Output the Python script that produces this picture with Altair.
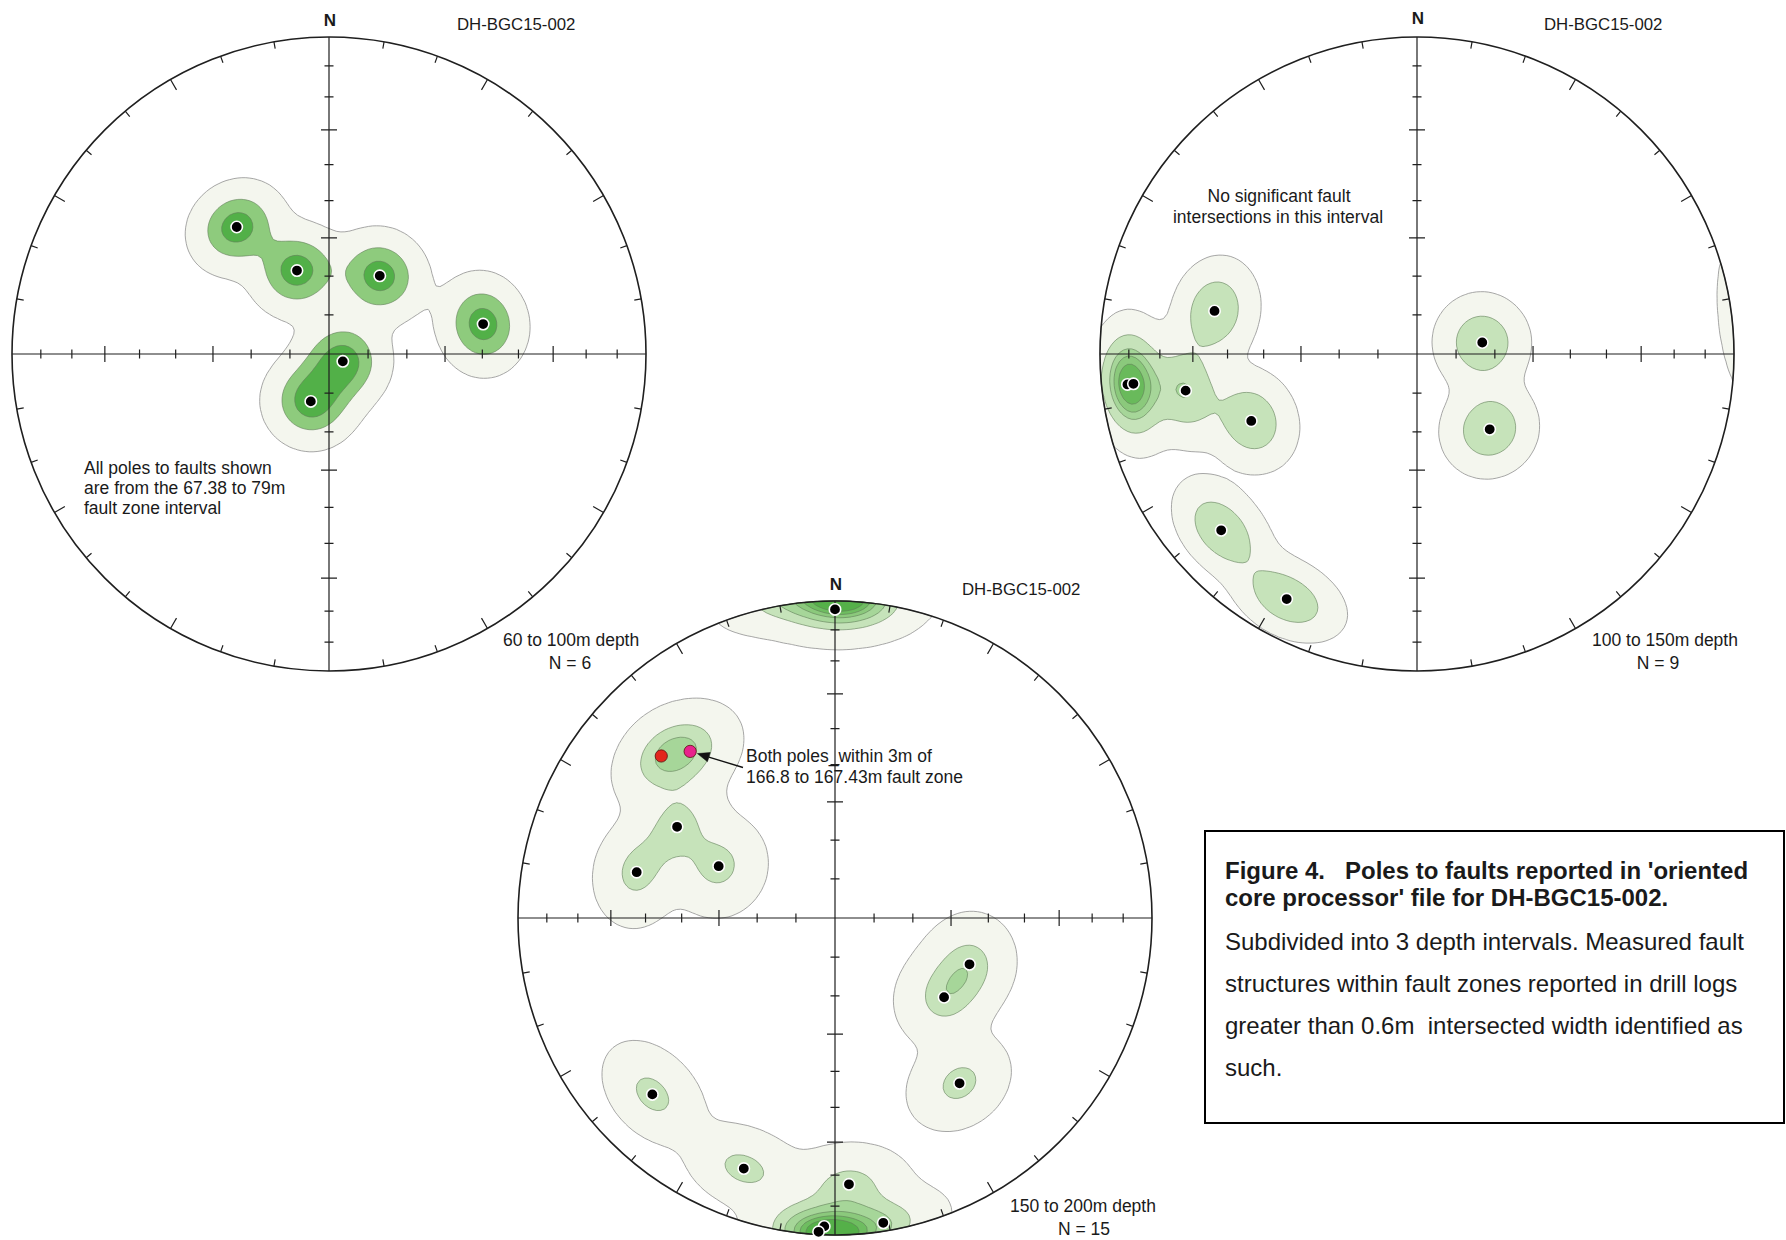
import numpy as np
import pandas as pd
import altair as alt

# ---------------------------------------------------------------------------
# Poles to faults, DH-BGC15-002 (trend / plunge in degrees, lower hemisphere)
# ---------------------------------------------------------------------------
net1_trend = [324, 339, 33, 79, 118, 201]
net1_plunge = [49, 67, 66, 49, 86, 77]

net2_trend = [282, 264, 264, 261, 248, 228, 208, 80, 136]
net2_plunge = [35, 9, 11, 27, 43, 18, 13.5, 73, 63]

net3_trend = [0, 313, 319, 300, 283, 294, 109, 126, 143, 226, 200, 177, 171, 182, 183]
net3_plunge = [3, 26, 31, 42, 36, 57, 53, 55, 35, 21, 17, 17, 3, 3, 1]
net3_group = ["other", "fault zone a", "fault zone b"] + ["other"] * 12

hole_id = "DH-BGC15-002"
depth_labels = ["60 to 100m depth", "100 to 150m depth", "150 to 200m depth"]
count_labels = ["N = 6", "N = 9", "N = 15"]

# density contour levels (summed kernel weight) and their fills, per net
net_levels = [
    [0.095, 0.48, 0.82],
    [0.10, 0.54, 1.015, 1.30, 1.60],
    [0.10, 0.80, 1.32, 1.78, 2.08, 2.35],
]
net_fills = [
    ["#f4f6ee", "#8ecb7d", "#52b048"],
    ["#f4f6ee", "#c6e3ba", "#a6d699", "#8bc97c", "#69ba5b"],
    ["#f4f6ee", "#c6e3ba", "#a6d699", "#8bc97c", "#6ebd60", "#55b049"],
]
KERNEL_SIGMA = 6.0  # degrees

# page layout of the three nets: centre (px) and primitive radius (px)
NET_CENTRES = [(329, 354), (1417, 354), (835, 918)]
RADIUS = 317
INK = "#1f1f1f"
FONT = "Liberation Sans"

SQ2 = np.sqrt(2.0)


def schmidt(trend, plunge):
    """Equal-area (Schmidt) lower-hemisphere projection -> unit-circle east/north."""
    t = np.radians(np.asarray(trend, float))
    p = np.radians(np.asarray(plunge, float))
    r = SQ2 * np.sin((np.pi / 2 - p) / 2)
    return r * np.sin(t), r * np.cos(t)


def density_grid(trend, plunge, n=177, ext=1.1, rim=1.05):
    """Axial Gaussian density on the sphere, sampled on the projection plane."""
    u = np.linspace(-ext, ext, n)
    U, V = np.meshgrid(u, u)
    rho = np.hypot(U, V)
    rc = np.minimum(rho, 1.0)
    phi = 2 * np.arcsin(rc / SQ2)
    az = np.arctan2(U, V)
    gx, gy, gz = np.sin(phi) * np.sin(az), np.sin(phi) * np.cos(az), np.cos(phi)
    t = np.radians(np.asarray(trend, float))
    p = np.radians(np.asarray(plunge, float))
    S = np.zeros_like(U)
    for ti, pi in zip(t, p):
        d = np.abs(gx * np.cos(pi) * np.sin(ti) + gy * np.cos(pi) * np.cos(ti) + gz * np.sin(pi))
        th = np.degrees(np.arccos(np.clip(d, -1, 1)))
        S += np.exp(-th ** 2 / (2 * KERNEL_SIGMA ** 2))
    S[rho > rim] = 0.0
    return u, S


def iso_rings(u, S, level):
    """Marching squares; rings oriented with the high side on the left."""
    B = S >= level
    code = B[:-1, :-1] * 1 + B[:-1, 1:] * 2 + B[1:, 1:] * 4 + B[1:, :-1] * 8
    I, J = np.nonzero((code != 0) & (code != 15))
    Sl, Bl, ul = S.tolist(), B.tolist(), u.tolist()

    def point(key):
        kind, i, j = key
        if kind == 0:
            s0, s1 = Sl[i][j], Sl[i][j + 1]
            t = (level - s0) / (s1 - s0)
            return (ul[j] + t * (ul[j + 1] - ul[j]), ul[i])
        s0, s1 = Sl[i][j], Sl[i + 1][j]
        t = (level - s0) / (s1 - s0)
        return (ul[j], ul[i] + t * (ul[i + 1] - ul[i]))

    nxt = {}
    for i, j in zip(I.tolist(), J.tolist()):
        ba, bb, bc, bd = Bl[i][j], Bl[i][j + 1], Bl[i + 1][j + 1], Bl[i + 1][j]
        E = {"b": (0, i, j), "r": (1, i, j + 1), "t": (0, i + 1, j), "l": (1, i, j)}
        crossed = []
        if ba != bb:
            crossed.append("b")
        if bb != bc:
            crossed.append("r")
        if bc != bd:
            crossed.append("t")
        if bd != ba:
            crossed.append("l")
        if len(crossed) == 2:
            pairs = [tuple(crossed)]
        else:
            centre = (Sl[i][j] + Sl[i][j + 1] + Sl[i + 1][j + 1] + Sl[i + 1][j]) / 4 >= level
            pairs = [("b", "r"), ("t", "l")] if centre == ba else [("b", "l"), ("r", "t")]
        for e1, e2 in pairs:
            s = {e1, e2}
            if s == {"b", "r"}:
                ci, cj, cb = i, j + 1, bb
            elif s == {"r", "t"}:
                ci, cj, cb = i + 1, j + 1, bc
            elif s == {"t", "l"}:
                ci, cj, cb = i + 1, j, bd
            else:
                ci, cj, cb = i, j, ba
            k1, k2 = E[e1], E[e2]
            p, q = point(k1), point(k2)
            cross = (q[0] - p[0]) * (ul[ci] - p[1]) - (q[1] - p[1]) * (ul[cj] - p[0])
            if (cross > 0) != cb:
                k1, k2 = k2, k1
            nxt[k1] = k2

    rings = []
    while nxt:
        start, k = nxt.popitem()
        ring = [start]
        while k != start and k in nxt:
            ring.append(k)
            k = nxt.pop(k)
        if len(ring) > 2:
            rings.append([point(kk) for kk in ring])
    return rings


def to_page(x, y, centre):
    cx, cy = centre
    return cx + RADIUS * x, cy - RADIUS * y


def feature(gtype, coords, **props):
    return {"type": "Feature", "geometry": {"type": gtype, "coordinates": coords}, "properties": props}


nets = [
    (net1_trend, net1_plunge, ["other"] * len(net1_trend)),
    (net2_trend, net2_plunge, ["other"] * len(net2_trend)),
    (net3_trend, net3_plunge, net3_group),
]

# ---- filled density contours ----
level_features = {}
for k, ((tr, pl, _), levels, fills, centre) in enumerate(zip(nets, net_levels, net_fills, NET_CENTRES)):
    u, S = density_grid(tr, pl)
    for li, (lev, fill) in enumerate(zip(levels, fills)):
        polys = []
        for ring in iso_rings(u, S, lev):
            pts = []
            for x, y in ring:
                r = np.hypot(x, y)
                if r > 1:
                    x, y = x / r, y / r
                X, Y = to_page(x, y, centre)
                pts.append([round(X, 1), round(Y, 1)])
            pts.append(pts[0])
            polys.append([pts])
        if polys:
            level_features.setdefault(li, []).append(
                feature("MultiPolygon", polys, fill=fill,
                        stroke="#909090" if li == 0 else "#5f7d57",
                        sw=0.8 if li == 0 else 0.6))

proj = dict(type="identity", scale=1, translate=[0, 0])

layers = []
for li in sorted(level_features):
    layers.append(
        alt.Chart(alt.Data(values=level_features[li]))
        .mark_geoshape(strokeJoin="round")
        .encode(fill=alt.Fill("properties.fill:N", scale=None),
                stroke=alt.Stroke("properties.stroke:N", scale=None),
                strokeWidth=alt.StrokeWidth("properties.sw:Q", scale=None))
        .project(**proj)
    )

# ---- axes, diameter ticks (10 degree plunge steps) and perimeter ticks ----
line_feats = []
for centre in NET_CENTRES:
    cx, cy = centre
    segs = [[[cx - RADIUS, cy], [cx + RADIUS, cy]], [[cx, cy - RADIUS], [cx, cy + RADIUS]]]
    for pl in range(10, 90, 10):
        d = RADIUS * SQ2 * np.sin(np.radians(90 - pl) / 2)
        h = 8.0 if pl in (30, 60) else 4.5
        for s in (-1, 1):
            segs.append([[cx + s * d, cy - h], [cx + s * d, cy + h]])
            segs.append([[cx - h, cy + s * d], [cx + h, cy + s * d]])
    for az in range(10, 360, 10):
        if az % 90 == 0:
            continue
        a = np.radians(az)
        ln = 12.0 if az % 30 == 0 else 7.0
        sx, sy = np.sin(a), -np.cos(a)
        segs.append([[cx + RADIUS * sx, cy + RADIUS * sy],
                     [cx + (RADIUS - ln) * sx, cy + (RADIUS - ln) * sy]])
    segs = [[[round(float(p[0]), 2), round(float(p[1]), 2)] for p in sgm] for sgm in segs]
    line_feats.append(feature("MultiLineString", segs))

layers.append(
    alt.Chart(alt.Data(values=line_feats))
    .mark_geoshape(filled=False, stroke=INK, strokeWidth=1.2)
    .project(**proj)
)

# primitive circles
frame = pd.DataFrame({"x": [c[0] for c in NET_CENTRES], "y": [c[1] for c in NET_CENTRES]})
layers.append(
    alt.Chart(frame)
    .mark_point(shape="circle", filled=False, size=(2 * RADIUS) ** 2, stroke=INK, strokeWidth=1.6, opacity=1)
    .encode(longitude="x:Q", latitude="y:Q")
    .project(**proj)
)

# ---- poles ----
rows = []
for k, (tr, pl, grp) in enumerate(nets):
    x, y = schmidt(tr, pl)
    X, Y = to_page(x, y, NET_CENTRES[k])
    for xi, yi, g in zip(X, Y, grp):
        rows.append({"x": float(xi), "y": float(yi), "group": g})
poles = pd.DataFrame(rows)

layers.append(
    alt.Chart(poles[poles.group == "other"])
    .mark_circle(size=130, color="#000000", opacity=1, stroke="white", strokeWidth=1.6)
    .encode(longitude="x:Q", latitude="y:Q")
    .project(**proj)
)
layers.append(
    alt.Chart(poles[poles.group != "other"])
    .mark_circle(size=150, opacity=1, stroke="#5a1010", strokeWidth=0.8)
    .encode(longitude="x:Q", latitude="y:Q",
            color=alt.Color("group:N", scale=alt.Scale(domain=["fault zone a", "fault zone b"],
                                                       range=["#e2261c", "#e8238c"]), legend=None))
    .project(**proj)
)

# ---- arrow to the fault-zone pair ----
fz = poles[poles.group == "fault zone b"].iloc[0]
tail = np.array([743.0, 767.5])
tip = np.array([fz.x, fz.y]) + 0.0
dvec = tail - tip
dvec /= np.hypot(*dvec)
tip = tip + 7.5 * dvec
nrm = np.array([-dvec[1], dvec[0]])
base = tip + 12 * dvec
head = [tip.tolist(), (base + 4.8 * nrm).tolist(), (base - 4.8 * nrm).tolist(), tip.tolist()]
layers.append(
    alt.Chart(alt.Data(values=[feature("LineString", [base.tolist(), tail.tolist()])]))
    .mark_geoshape(filled=False, stroke="#111111", strokeWidth=1.4)
    .project(**proj)
)
layers.append(
    alt.Chart(alt.Data(values=[feature("Polygon", [head])]))
    .mark_geoshape(fill="#111111", stroke="#111111", strokeWidth=0.5)
    .project(**proj)
)

# ---- caption box ----
box = [[1205, 831], [1784, 831], [1784, 1123], [1205, 1123], [1205, 831]]
layers.append(
    alt.Chart(alt.Data(values=[feature("Polygon", [box])]))
    .mark_geoshape(fill="white", stroke="#000000", strokeWidth=2)
    .project(**proj)
)


def text_layer(df, **kw):
    return (alt.Chart(df).mark_text(font=FONT, color="#1a1a1a", baseline="middle", **kw)
            .encode(longitude="x:Q", latitude="y:Q", text="t:N").project(**proj))


north = pd.DataFrame({"x": [330, 1418, 836], "y": [21, 19, 585], "t": ["N"] * 3})
ids = pd.DataFrame({"x": [457, 1544, 962], "y": [24.5, 24.5, 590], "t": [hole_id] * 3})
left_notes = pd.DataFrame({
    "x": [84, 84, 84, 503, 1592, 1010, 746, 746],
    "y": [469, 489, 509, 641, 641, 1207, 757, 778],
    "t": ["All poles to faults shown", "are from the 67.38 to 79m", "fault zone interval",
          depth_labels[0], depth_labels[1], depth_labels[2],
          "Both poles_within 3m of", "166.8 to 167.43m fault zone"],
})
centre_notes = pd.DataFrame({
    "x": [1279, 1278, 570, 1658, 1084],
    "y": [197, 218, 664, 664, 1230],
    "t": ["No significant fault", "intersections in this interval",
          count_labels[0], count_labels[1], count_labels[2]],
})
caption_title = pd.DataFrame({
    "x": [1225, 1225], "y": [872, 899],
    "t": ["Figure 4.\u00a0\u00a0 Poles to faults reported in 'oriented",
          "core processor' file for DH-BGC15-002."],
})
caption_body = pd.DataFrame({
    "x": [1225] * 4, "y": [943, 985, 1027, 1069],
    "t": ["Subdivided into 3 depth intervals. Measured fault",
          "structures within fault zones reported in drill logs",
          "greater than 0.6m\u00a0 intersected width identified as",
          "such."],
})

layers += [
    text_layer(north, fontSize=17, fontWeight="bold", align="center"),
    text_layer(ids, fontSize=16.8, align="left"),
    text_layer(left_notes, fontSize=17.5, align="left"),
    text_layer(centre_notes, fontSize=17.5, align="center"),
    text_layer(caption_title, fontSize=24, fontWeight="bold", align="left"),
    text_layer(caption_body, fontSize=24, align="left"),
]

chart = (
    alt.layer(*layers)
    .properties(width=1786, height=1240, autosize=alt.AutoSizeParams(type="none"), padding=0,
                background="white")
    .configure_view(stroke=None)
)

chart.save("out.html", embed_options={"renderer": "svg", "actions": False})
